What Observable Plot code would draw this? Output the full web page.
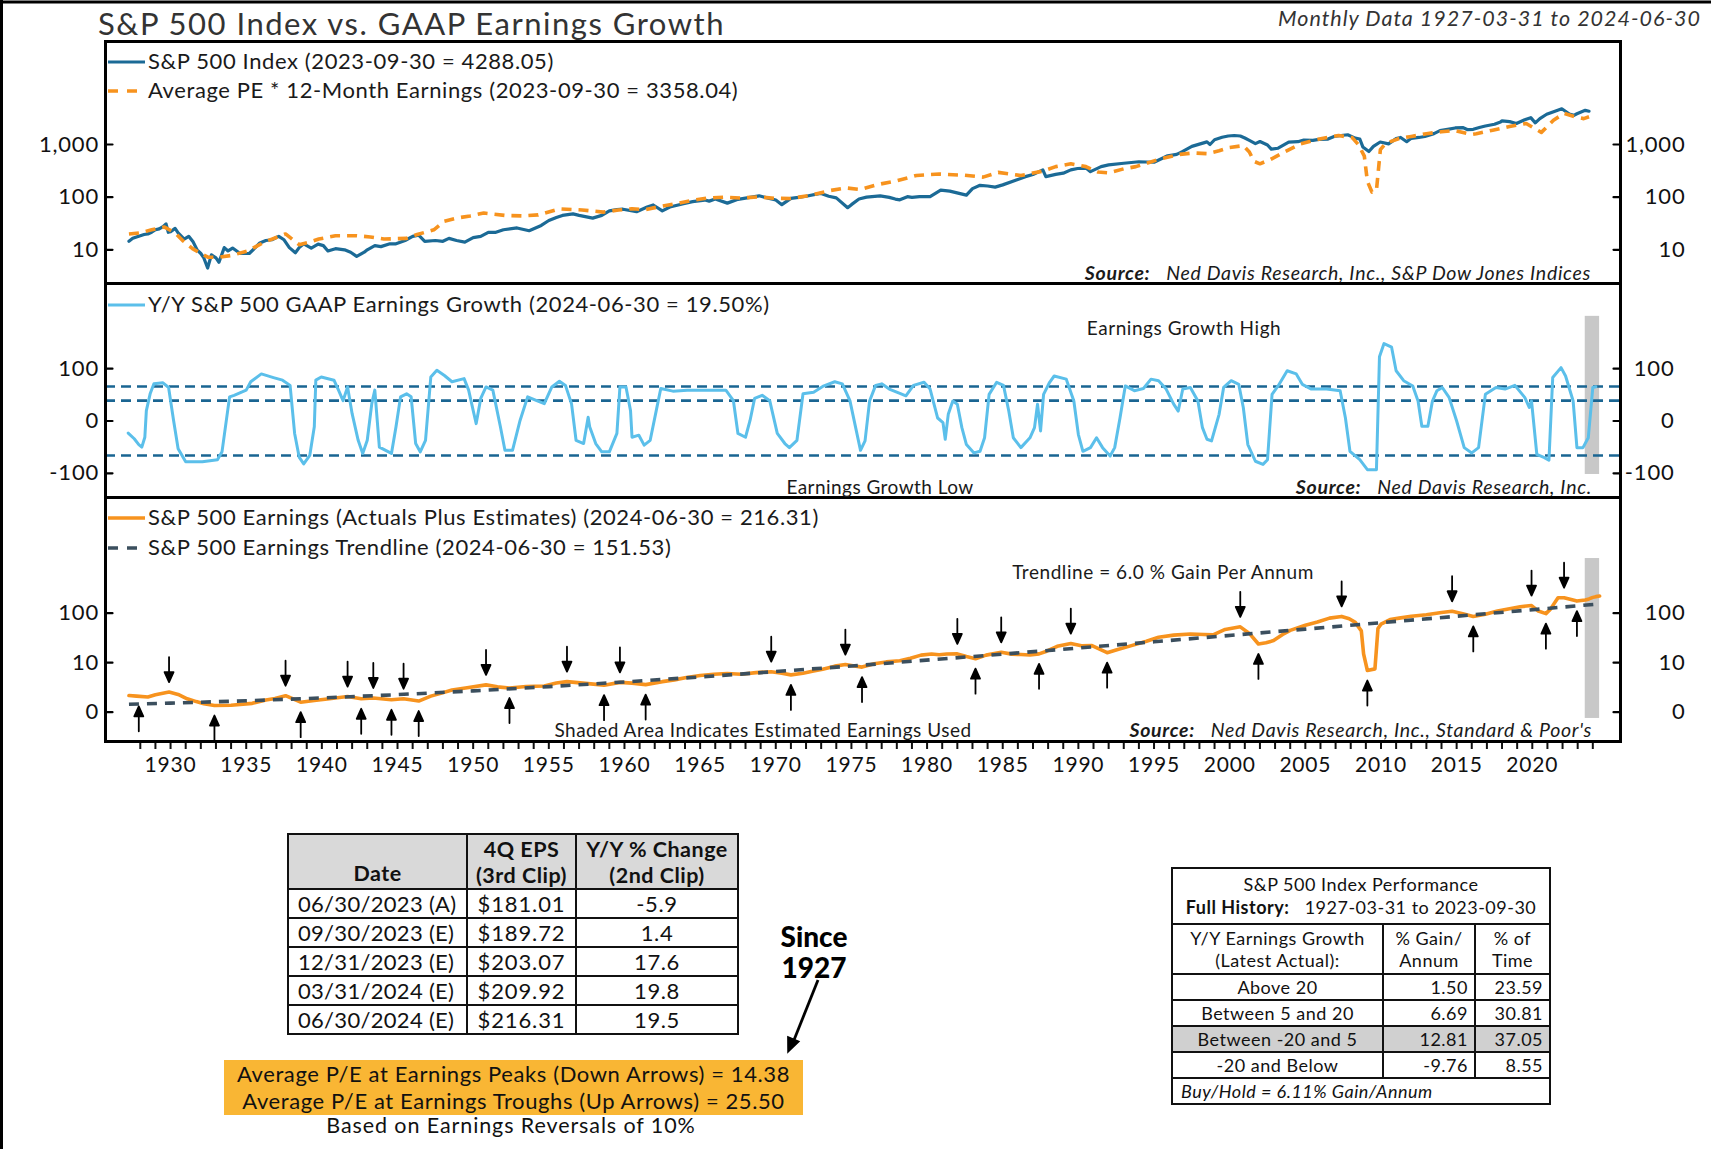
<!DOCTYPE html>
<html>
<head>
<meta charset="utf-8">
<script src="https://cdn.jsdelivr.net/npm/d3@7"></script>
<script src="https://cdn.jsdelivr.net/npm/@observablehq/plot@0.6"></script>
<style>
html,body{margin:0;padding:0;background:#fff;}
#root{position:relative;width:1711px;height:1149px;overflow:hidden;background:#fff;font-family:Lato,"Open Sans",sans-serif;color:#1a1a1a;}
#root > svg{position:absolute;left:0;top:0;}
.abs{position:absolute;white-space:nowrap;line-height:1;}
table.t{position:absolute;border-collapse:collapse;table-layout:fixed;font-family:Lato,"Open Sans",sans-serif;color:#111;}
table.t td, table.t th{border:2.5px solid #111;padding:0;overflow:hidden;white-space:nowrap;}
</style>
</head>
<body>
<div id="root"></div>
<script>
// ================= DATA =================
// S&P 500 Index [year, level]
const spx = [[1927.25,14.5],[1927.5,16.5],[1927.75,17.5],[1928.0,18.5],[1928.25,19.5],[1928.5,20],[1928.75,21.5],[1929.0,24],[1929.25,25],[1929.5,27.5],[1929.7,31],[1929.85,21.5],[1930.0,22],[1930.3,25.5],[1930.5,21],[1930.9,16],[1931.2,18],[1931.5,14],[1931.75,10],[1932.0,8.5],[1932.2,7],[1932.45,4.5],[1932.7,8],[1933.0,7],[1933.2,5.8],[1933.55,11],[1933.8,9.5],[1934.1,10.8],[1934.6,8.5],[1935.2,8.5],[1935.6,11],[1935.9,13.5],[1936.3,15],[1936.7,15.5],[1937.15,18],[1937.5,15.5],[1937.85,11],[1938.25,8.8],[1938.5,11],[1938.8,13],[1939.3,10.8],[1939.75,12.8],[1940.1,12],[1940.4,9.5],[1940.9,10.5],[1941.5,10],[1941.9,9],[1942.3,7.5],[1942.8,9],[1943.0,10],[1943.5,12],[1943.9,11.5],[1944.5,13],[1944.9,13],[1945.5,15],[1946.0,18],[1946.4,19],[1946.8,14.5],[1947.5,15],[1948.0,14.5],[1948.4,16.5],[1948.9,15],[1949.45,14],[1950.0,17],[1950.5,18],[1951.0,21.5],[1951.5,21.5],[1952.0,24],[1952.9,26],[1953.7,23],[1954.5,29],[1955.0,36],[1955.5,41],[1955.9,45],[1956.6,48],[1957.0,45],[1957.9,40],[1958.5,45],[1959.0,55],[1959.5,58],[1959.9,59],[1960.8,53],[1961.5,65],[1961.9,71],[1962.5,55],[1963.0,65],[1963.9,75],[1964.5,82],[1965.3,88],[1965.6,84],[1966.0,92],[1966.8,77],[1967.5,91],[1967.9,95],[1968.9,106],[1969.5,96],[1970.0,88],[1970.4,72],[1971.0,95],[1971.5,99],[1972.0,104],[1972.95,118],[1973.5,104],[1974.0,97],[1974.75,63],[1975.0,72],[1975.5,92],[1976.0,100],[1976.9,106],[1977.5,99],[1977.9,92],[1978.2,89],[1978.7,102],[1979.0,99],[1979.5,102],[1980.2,102],[1980.9,136],[1981.5,130],[1982.6,109],[1983.0,145],[1983.5,168],[1984.0,163],[1984.5,155],[1985.0,171],[1985.9,211],[1986.5,245],[1987.0,270],[1987.65,330],[1987.85,245],[1988.5,270],[1989.0,285],[1989.5,330],[1989.95,350],[1990.5,356],[1990.8,305],[1991.5,380],[1992.0,410],[1993.0,440],[1994.0,470],[1995.0,460],[1995.9,610],[1996.5,650],[1996.9,740],[1997.5,920],[1998.5,1120],[1998.7,1000],[1999.0,1230],[1999.5,1370],[1999.9,1450],[2000.3,1480],[2000.7,1450],[2001.0,1330],[2001.3,1200],[2001.7,1040],[2002.0,1140],[2002.5,980],[2002.75,815],[2003.2,850],[2003.9,1110],[2004.5,1130],[2004.9,1210],[2005.5,1200],[2005.9,1250],[2006.5,1270],[2006.9,1420],[2007.5,1500],[2007.8,1530],[2008.3,1320],[2008.6,1270],[2008.8,900],[2009.2,735],[2009.5,920],[2009.95,1115],[2010.5,1030],[2011.0,1290],[2011.3,1360],[2011.7,1130],[2012.0,1310],[2012.5,1360],[2012.9,1420],[2013.5,1610],[2013.9,1830],[2014.5,1960],[2014.9,2060],[2015.4,2100],[2015.7,1920],[2016.1,1940],[2016.5,2100],[2016.9,2240],[2017.5,2420],[2017.9,2670],[2018.0,2820],[2018.5,2720],[2018.95,2510],[2019.5,2940],[2019.9,3230],[2020.2,2580],[2020.5,3100],[2020.95,3750],[2021.5,4300],[2021.95,4770],[2022.45,3790],[2022.75,3580],[2022.95,3840],[2023.5,4450],[2023.75,4288.05]];

// Average PE * 12-Month Earnings [year, value]
const avgPeEarnings = [[1927.25,20],[1928.0,21],[1928.75,24],[1929.6,27],[1930.3,21],[1930.8,15],[1931.45,10.5],[1932.0,8.5],[1932.5,7.2],[1933.2,7.2],[1934.0,7.8],[1935.1,9.5],[1936.2,14],[1937.6,20],[1938.5,12.5],[1939.2,14],[1939.8,16],[1940.9,18.5],[1942.3,18.5],[1943.2,17.5],[1944.1,16],[1945.6,16.5],[1946.3,19.5],[1947.4,24],[1948.1,35],[1948.9,40],[1949.8,44],[1950.7,50],[1952.1,45],[1953.2,44],[1954.3,46],[1955.7,60],[1957.2,57],[1958.6,52],[1959.6,57],[1960.5,60],[1961.4,58],[1962.3,66],[1963.3,74],[1964.4,86],[1965.5,96],[1966.6,100],[1967.7,96],[1968.8,101],[1970.0,95],[1971.0,94],[1972.4,110],[1973.5,132],[1974.6,150],[1975.6,140],[1976.8,175],[1978.0,205],[1979.3,258],[1980.8,275],[1982.5,260],[1983.7,240],[1984.7,295],[1986.2,258],[1987.6,310],[1988.5,380],[1989.5,430],[1990.5,380],[1991.3,300],[1992.0,290],[1993.0,345],[1993.8,380],[1995.3,520],[1996.7,650],[1997.6,690],[1998.5,670],[1999.3,760],[2000.0,880],[2000.9,950],[2001.3,720],[2001.6,480],[2002.0,430],[2002.7,520],[2003.6,720],[2004.7,1030],[2005.5,1180],[2006.1,1300],[2007.2,1480],[2008.1,1350],[2008.5,1000],[2008.9,600],[2009.1,200],[2009.4,125],[2009.7,135],[2009.96,800],[2010.3,1050],[2011.2,1300],[2012.0,1420],[2013.0,1600],[2014.0,1750],[2014.9,1840],[2016.0,1550],[2016.3,1600],[2017.3,1850],[2018.5,2200],[2019.6,2500],[2020.3,1900],[2020.6,1700],[2021.4,2900],[2022.1,3900],[2022.9,3300],[2023.4,3100],[2023.75,3358.04]];

// Y/Y S&P 500 GAAP earnings growth, % [year, pct]
const yoyGrowth = [[1927.2,-1.9],[1927.6,-3.8],[1927.9,-7],[1928.1,-9],[1928.3,-3.2],[1928.4,1.5],[1928.65,10],[1928.9,25.5],[1929.5,28],[1929.87,18.2],[1930.2,0.05],[1930.5,-10.5],[1931.0,-35.6],[1932.1,-35.6],[1933.1,-29.4],[1933.4,-14.2],[1933.9,7.4],[1934.2,8.6],[1935.0,14.2],[1935.3,30.9],[1936.0,62.7],[1936.8,45],[1937.4,35.6],[1937.9,22.1],[1938.2,-2],[1938.5,-23.1],[1938.8,-43],[1939.2,-20],[1939.5,-0.66],[1939.6,35.6],[1939.96,47.3],[1940.8,35.6],[1941.1,14.2],[1941.4,5],[1941.7,19.1],[1942.0,0.9],[1942.4,-4.5],[1942.7,-16.5],[1943.0,-4.5],[1943.3,3.6],[1943.5,14.2],[1943.8,-9],[1944.6,-16.5],[1944.9,-0.66],[1945.2,7.4],[1945.6,10],[1945.9,7.4],[1946.2,-6.3],[1946.5,-14.2],[1946.85,-4.5],[1947.2,47.3],[1947.6,86.9],[1948.1,54.4],[1948.6,30.9],[1949.4,41],[1949.7,14.2],[1950.05,0.9],[1950.2,-0.26],[1950.5,6.3],[1950.85,19.1],[1951.3,14.2],[1951.8,-0.66],[1952.1,-12.3],[1952.6,-12.3],[1953.1,0.05],[1953.6,7.4],[1954.2,5],[1954.7,3.6],[1955.2,19.1],[1955.7,32.3],[1956.1,22.1],[1956.5,3.6],[1956.8,-4.5],[1957.3,-6.3],[1957.6,0.4],[1957.7,-0.66],[1958.1,-6.3],[1958.5,-14.2],[1959.0,-14.2],[1959.5,-2],[1959.7,19.1],[1960.1,19.1],[1960.4,1.5],[1960.5,-3.2],[1960.95,-2.5],[1961.3,-7.4],[1961.7,-4.5],[1962.1,1.5],[1962.4,16.5],[1963.2,12.9],[1964.15,14.2],[1965.4,14.2],[1966.7,14.2],[1967.2,5],[1967.5,-2],[1968.0,-3.2],[1968.3,0.05],[1968.6,6.3],[1969.1,8.6],[1969.6,5],[1970.1,-2],[1970.6,-6.3],[1970.9,-9.5],[1971.4,-4.5],[1971.8,10],[1972.5,11.7],[1973.1,20],[1973.9,30.9],[1974.4,25.5],[1974.9,5],[1975.6,-12.3],[1975.9,-4.8],[1976.2,4.8],[1976.6,22.1],[1977.0,25.5],[1977.5,15.7],[1978.2,10.5],[1978.6,8.2],[1979.1,22.1],[1979.8,29.4],[1980.2,15.7],[1980.7,0.3],[1981.05,-0.15],[1981.2,-4],[1981.4,0.8],[1981.7,4.8],[1982.0,3.4],[1982.3,-0.8],[1982.6,-7],[1983.1,-15.7],[1983.5,-13.5],[1983.8,-3.4],[1984.1,9.5],[1984.6,29.4],[1985.05,22.1],[1985.4,1.4],[1985.7,-3.4],[1986.2,-9.5],[1986.8,-3.4],[1987.1,-0.8],[1987.3,3.4],[1987.5,-1.4],[1987.7,9.5],[1988.1,29.4],[1988.4,51.9],[1989.2,39.1],[1989.7,4.8],[1990.0,-2.3],[1990.3,-13.5],[1990.8,-9.5],[1991.2,-3.4],[1991.6,-9.5],[1992.1,-21],[1992.4,-9.5],[1992.75,0.3],[1993.1,21],[1993.7,13.5],[1994.3,16.5],[1994.8,39.1],[1995.3,33.9],[1995.8,15.7],[1996.3,3.4],[1996.6,1.4],[1996.9,15.7],[1997.4,18.2],[1997.9,4.8],[1998.2,-0.8],[1998.5,-4],[1998.8,-4.8],[1999.3,0.8],[1999.6,18.2],[2000.1,33.9],[2000.6,24.3],[2000.9,2.3],[2001.2,-7],[2001.7,-33.9],[2002.2,-45.1],[2002.5,-29.4],[2002.8,9.5],[2003.2,21],[2003.8,82.9],[2004.4,62.7],[2004.8,24.3],[2005.4,15.7],[2006.4,15.7],[2007.3,13.5],[2007.65,0.3],[2007.95,-13.5],[2008.6,-29.4],[2009.1,-72.1],[2009.7,-72.1],[2009.9,290.9],[2010.2,924],[2010.7,669],[2011.0,82.9],[2011.5,33.9],[2012.1,21],[2012.45,4.8],[2012.7,-0.6],[2013.1,-0.6],[2013.4,4.8],[2013.7,13.5],[2014.05,18.2],[2014.5,7],[2015.0,0],[2015.5,-9.5],[2016.0,-15.7],[2016.45,-9.5],[2016.9,9.5],[2017.6,18.2],[2018.2,15.7],[2018.85,22.1],[2019.5,7],[2019.8,2.3],[2019.95,4.8],[2020.3,-18.2],[2020.8,-24.3],[2021.1,-30.9],[2021.35,45.1],[2021.9,109.7],[2022.2,51.9],[2022.7,4.8],[2022.95,-9.5],[2023.35,-9.5],[2023.7,-3.4],[2024.0,18.2],[2024.2,19.5]];

// S&P 500 earnings, actuals plus estimates [year, $]
const earnings = [[1927.25,1.37],[1927.75,1.3],[1928.5,1.2],[1929.0,1.45],[1929.9,1.8],[1930.5,1.5],[1931.1,1.02],[1931.7,0.75],[1932.2,0.57],[1932.9,0.43],[1934.0,0.45],[1935.4,0.6],[1936.3,0.9],[1936.9,1.05],[1937.6,1.35],[1938.1,1.0],[1938.6,0.7],[1939.5,0.85],[1940.5,1.02],[1941.7,1.25],[1942.6,1.02],[1943.4,1.1],[1944.6,0.92],[1945.4,1.02],[1946.4,0.8],[1947.2,1.3],[1947.8,1.6],[1948.6,2.1],[1949.6,2.45],[1950.85,2.95],[1951.6,2.6],[1952.4,2.4],[1953.5,2.65],[1954.7,2.75],[1955.5,3.3],[1956.2,3.6],[1957.6,3.2],[1958.65,2.9],[1959.7,3.45],[1960.5,3.3],[1961.4,3.0],[1962.5,3.6],[1963.3,4.0],[1964.1,4.6],[1965.0,5.1],[1965.9,5.5],[1966.8,5.7],[1967.7,5.5],[1968.7,6.0],[1969.7,6.3],[1970.4,5.8],[1971.0,5.3],[1971.8,5.8],[1972.5,6.5],[1973.1,7.2],[1973.9,8.4],[1974.6,9.1],[1975.2,8.5],[1975.7,8.0],[1976.5,9.5],[1977.3,10.4],[1978.2,11.0],[1978.9,12.5],[1979.6,14.5],[1980.3,15.3],[1980.8,14.8],[1981.3,15.3],[1982.0,15.4],[1982.6,13.5],[1983.2,12.2],[1983.9,14.5],[1984.9,16.6],[1985.6,15.2],[1986.2,14.9],[1986.8,14.6],[1987.4,15.4],[1987.9,17.5],[1988.6,22],[1989.5,25],[1990.2,22.5],[1990.9,22.8],[1991.9,16.3],[1992.6,19],[1993.45,22.5],[1994.5,28],[1995.3,33.5],[1996.3,37],[1997.4,39],[1998.3,38],[1998.9,37.5],[1999.7,48],[2000.7,54],[2001.3,40],[2001.9,24.6],[2002.4,26],[2002.9,28.8],[2003.5,38],[2004.0,46],[2005.0,58],[2005.8,67],[2006.6,80],[2007.4,86.5],[2007.9,78],[2008.3,66],[2008.7,45],[2008.85,15.4],[2009.1,6.7],[2009.6,7.3],[2009.8,50],[2010.0,61],[2010.6,75],[2011.2,80],[2012.0,87],[2013.0,93],[2014.0,103],[2014.7,109],[2015.4,98],[2016.1,86.5],[2016.9,95],[2017.7,110],[2018.5,122],[2019.2,134],[2019.95,141],[2020.4,110],[2020.9,98],[2021.2,120],[2021.7,200],[2022.1,200],[2022.5,186],[2022.95,172],[2023.5,181.01],[2023.75,189.72],[2024.0,203.07],[2024.2,209.92],[2024.45,216.31]];

// Earnings trendline, 6.0% gain per annum [year, $]
const trendline = [[1927.25,0.524],[1930,0.616],[1935,0.823],[1940,1.102],[1945,1.475],[1950,1.973],[1955,2.64],[1960,3.534],[1965,4.73],[1970,6.33],[1975,8.47],[1985,15.17],[1995,27.17],[2005,48.66],[2015,87.1],[2024.45,151.53]];

// Earnings reversals of 10%
const peakYears = [1929.9,1937.6,1941.7,1943.4,1945.4,1950.85,1956.2,1959.7,1969.7,1974.6,1982.0,1984.9,1989.5,2000.7,2007.4,2014.7,2019.95,2022.1];
const troughYears = [1927.9,1932.9,1938.6,1942.6,1944.6,1946.4,1952.4,1958.65,1961.4,1971.0,1975.7,1983.2,1987.4,1991.9,2001.9,2009.1,2016.1,2020.9,2022.95];

const growthThresholds = [20, 5, -20];
const estimateYears = [2023.5, 2024.45];
const midBandY = [-111, 10190];
const botBandY = [-0.4, 1144];

const topTicks = [10, 100, 1000];
const midTicks = [-100, 0, 100];
const botTicks = [0, 10, 100];
const yearTicks = d3.range(1928, 2025);

const titleText = "S&P 500 Index vs. GAAP Earnings Growth";
const subtitleText = "Monthly Data 1927-03-31 to 2024-06-30";
const legendTop = ["S&P 500 Index (2023-09-30 = 4288.05)", "Average PE * 12-Month Earnings (2023-09-30 = 3358.04)"];
const legendMid = ["Y/Y S&P 500 GAAP Earnings Growth (2024-06-30 = 19.50%)"];
const legendBot = ["S&P 500 Earnings (Actuals Plus Estimates) (2024-06-30 = 216.31)", "S&P 500 Earnings Trendline (2024-06-30 = 151.53)"];

const epsTableHead = [["Date"], ["4Q EPS", "(3rd Clip)"], ["Y/Y % Change", "(2nd Clip)"]];
const epsTableDates = ["06/30/2023 (A)", "09/30/2023 (E)", "12/31/2023 (E)", "03/31/2024 (E)", "06/30/2024 (E)"];
const epsTableEps = ["$181.01", "$189.72", "$203.07", "$209.92", "$216.31"];
const epsTableChg = ["-5.9", "1.4", "17.6", "19.8", "19.5"];

const perfTitle = ["S&P 500 Index Performance", "Full History:", "1927-03-31 to 2023-09-30"];
const perfHead = [["Y/Y Earnings Growth", "(Latest Actual):"], ["% Gain/", "Annum"], ["% of", "Time"]];
const perfRows = ["Above 20", "Between 5 and 20", "Between -20 and 5", "-20 and Below"];
const perfGain = ["1.50", "6.69", "12.81", "-9.76"];
const perfTime = ["23.59", "30.81", "37.05", "8.55"];
const perfFoot = "Buy/Hold = 6.11% Gain/Annum";

const peText = ["Average P/E at Earnings Peaks (Down Arrows) = 14.38", "Average P/E at Earnings Troughs (Up Arrows) = 25.50"];
const reversalText = "Based on Earnings Reversals of 10%";
const sinceText = ["Since", "1927"];

// ================= STYLE =================
const W = 1711;
const xDomain = [1925.7, 2025.83];
const ML = 105, MR = W - 1620;
const FONT = "Lato, 'Open Sans', sans-serif";
const C = {
  spx: "#1b6a96", pe: "#f7931e", yoy: "#5bbfea", band: "#1a6592",
  eps: "#f7931e", trend: "#3b4f5e", shade: "#c8c8c8"
};
const plotStyle = {background: "transparent", overflow: "visible", fontFamily: FONT, fontSize: "22px", color: "#111", letterSpacing: "0.8px"};

const root = document.getElementById("root");
const tickShape = {draw(ctx, l) { ctx.moveTo(0, 0); ctx.lineTo(0, -l); }};
const arrowShape = {draw(ctx, l) {
  ctx.moveTo(0, 0); ctx.lineTo(0, -l + 6);
  ctx.moveTo(-4.5, -l + 10); ctx.lineTo(0, -l); ctx.lineTo(4.5, -l + 10); ctx.closePath();
}};
const px = d => d[0], py = d => d[1];

function yAxes(ticks, fmt, rightEnd) {
  return [
    Plot.axisY({ticks, anchor: "left", tickSize: 0, tickPadding: 6.5, tickFormat: fmt, fontSize: 22, label: null}),
    Plot.axisY({ticks, anchor: "right", tickSize: 0, tickPadding: rightEnd - 1620, textAnchor: "end", tickFormat: fmt, fontSize: 22, label: null}),
    Plot.vector(ticks, {y: d => d, frameAnchor: "left", rotate: 90, anchor: "start", length: 7, shape: tickShape, stroke: "#000", strokeWidth: 2.2}),
    Plot.vector(ticks, {y: d => d, frameAnchor: "right", rotate: 270, anchor: "start", length: 7, shape: tickShape, stroke: "#000", strokeWidth: 2.2})
  ];
}
function place(el) { el.style.position = "absolute"; el.style.left = "0px"; el.style.top = "0px"; root.appendChild(el); }

// ---- Panel 1: S&P 500 index (log) ----
place(Plot.plot({
  width: W, height: 290, marginLeft: ML, marginRight: MR, marginTop: 41, marginBottom: 7,
  style: plotStyle,
  x: {domain: xDomain, axis: null},
  y: {type: "log", domain: [2.29, 90400]},
  marks: [
    ...yAxes(topTicks, d3.format(","), 1685),
    Plot.line(spx, {x: px, y: py, stroke: C.spx, strokeWidth: 3.2}),
    Plot.line(avgPeEarnings, {x: px, y: py, stroke: C.pe, strokeWidth: 3.6, strokeDasharray: "10,7", strokeLinecap: "butt"}),
    Plot.frame({stroke: "#000", strokeWidth: 3})
  ]
}));

// ---- Panel 2: Y/Y earnings growth (symlog) ----
place(Plot.plot({
  width: W, height: 505, marginLeft: ML, marginRight: MR, marginTop: 283, marginBottom: 8,
  style: plotStyle,
  x: {domain: xDomain, axis: null},
  y: {type: "symlog", constant: 1, domain: [-853, 185000]},
  marks: [
    Plot.rect([estimateYears], {x1: d => d[0], x2: d => d[1], y1: () => midBandY[0], y2: () => midBandY[1], fill: C.shade}),
    Plot.ruleY(growthThresholds, {stroke: C.band, strokeWidth: 2.6, strokeDasharray: "10,6"}),
    Plot.line(yoyGrowth, {x: px, y: py, stroke: C.yoy, strokeWidth: 3}),
    ...yAxes(midTicks, d => String(d), 1674),
    Plot.frame({stroke: "#000", strokeWidth: 3})
  ]
}));

// ---- Panel 3: Earnings & trendline (symlog) ----
const interp = (s, x) => {
  for (let i = 1; i < s.length; i++) if (s[i][0] >= x) {
    const [x0, y0] = s[i - 1], [x1, y1] = s[i];
    return y0 + (y1 - y0) * (x - x0) / (x1 - x0);
  }
  return s[s.length - 1][1];
};
const peaks = peakYears.map(x => [x, interp(earnings, x)]);
const troughs = troughYears.map(x => [x, interp(earnings, x)]);

place(Plot.plot({
  width: W, height: 790, marginLeft: ML, marginRight: MR, marginTop: 497, marginBottom: 49,
  style: plotStyle,
  x: {domain: xDomain},
  y: {type: "symlog", constant: 1.25, domain: [-3.34, 17200]},
  marks: [
    Plot.rect([estimateYears], {x1: d => d[0], x2: d => d[1], y1: () => botBandY[0], y2: () => botBandY[1], fill: C.shade}),
    Plot.line(earnings, {x: px, y: py, stroke: C.eps, strokeWidth: 3.6}),
    Plot.line(trendline, {x: px, y: py, stroke: C.trend, strokeWidth: 3.6, strokeDasharray: "10,8", strokeLinecap: "butt"}),
    Plot.vector(peaks, {x: px, y: py, rotate: 180, anchor: "end", length: 25, dy: -10, shape: arrowShape, stroke: "#000", fill: "#000", strokeWidth: 1.8}),
    Plot.vector(troughs, {x: px, y: py, rotate: 0, anchor: "end", length: 25, dy: 10, shape: arrowShape, stroke: "#000", fill: "#000", strokeWidth: 1.8}),
    ...yAxes(botTicks, d => String(d), 1685),
    Plot.axisX({ticks: yearTicks, tickSize: 8, tickPadding: 8, strokeWidth: 2, fontSize: 21, label: null, tickFormat: d => d % 5 === 0 ? String(d) : ""}),
    Plot.frame({stroke: "#000", strokeWidth: 3})
  ]
}));

// ================= OVERLAY TEXT =================
function txt(html, x, yc, size, o = {}) {
  const d = document.createElement("div");
  d.className = "abs";
  d.innerHTML = html;
  d.style.fontSize = size + "px";
  d.style.top = (yc - size * 0.53) + "px";
  d.style.fontWeight = o.weight || 400;
  if (o.italic) d.style.fontStyle = "italic";
  if (o.ls != null) d.style.letterSpacing = o.ls + "px";
  if (o.lh) d.style.lineHeight = o.lh + "px";
  if (o.align) d.style.textAlign = o.align;
  d.style.color = o.color || "#1a1a1a";
  const a = o.anchor || "start";
  if (a === "start") d.style.left = x + "px";
  else if (a === "end") d.style.right = (W - x) + "px";
  else { d.style.left = x + "px"; d.style.transform = "translateX(-50%)"; }
  root.appendChild(d);
  return d;
}
const esc = s => s.replace(/&/g, "&amp;");

const ov = document.createElementNS("http://www.w3.org/2000/svg", "svg");
ov.setAttribute("width", W); ov.setAttribute("height", 1149);
ov.style.position = "absolute"; ov.style.left = "0"; ov.style.top = "0";
ov.innerHTML = `
  <line x1="1.5" y1="0" x2="1.5" y2="1149" stroke="#000" stroke-width="3"/>
  <line x1="0" y1="2" x2="${W}" y2="2" stroke="#000" stroke-width="3"/>
  <line x1="108" y1="62" x2="145" y2="62" stroke="${C.spx}" stroke-width="3.2"/>
  <line x1="108" y1="91" x2="145" y2="91" stroke="${C.pe}" stroke-width="3.6" stroke-dasharray="10,9"/>
  <line x1="108" y1="305" x2="145" y2="305" stroke="${C.yoy}" stroke-width="3"/>
  <line x1="108" y1="518" x2="145" y2="518" stroke="${C.eps}" stroke-width="3.6"/>
  <line x1="108" y1="548" x2="145" y2="548" stroke="${C.trend}" stroke-width="3.6" stroke-dasharray="10,9"/>
  <line x1="818" y1="980" x2="794" y2="1040" stroke="#000" stroke-width="2.8"/>
  <polygon points="788,1052 798.9,1041.4 787.9,1036.8" fill="#000" stroke="#000" stroke-width="1.5"/>
`;
root.appendChild(ov);

txt(esc(titleText), 98, 24, 31, {ls: 1.5, color: "#333"});
txt(esc(subtitleText), 1701, 19, 21.5, {anchor: "end", italic: true, color: "#333", ls: 1.0});

const LS = 0.6;
txt(esc(legendTop[0]), 148, 62, 22, {ls: LS});
txt(esc(legendTop[1]), 148, 91, 22, {ls: LS});
txt(esc(legendMid[0]), 148, 305, 22, {ls: LS});
txt(esc(legendBot[0]), 148, 518, 22, {ls: LS});
txt(esc(legendBot[1]), 148, 548, 22, {ls: LS});

const src = s => `<b>Source:</b>&nbsp;&nbsp;&nbsp;${esc(s)}`;
txt(src("Ned Davis Research, Inc., S&P Dow Jones Indices"), 1591, 273, 19.5, {anchor: "end", italic: true, ls: 0.7});
txt(src("Ned Davis Research, Inc."), 1592, 487, 19.5, {anchor: "end", italic: true, ls: 0.7});
txt(src("Ned Davis Research, Inc., Standard & Poor's"), 1592, 730, 19.5, {anchor: "end", italic: true, ls: 0.7});

txt("Earnings Growth High", 1184, 328, 19, {anchor: "middle", ls: 0.55});
txt("Earnings Growth Low", 880, 487, 19, {anchor: "middle", ls: 0.45});
txt("Trendline = 6.0 % Gain Per Annum", 1163, 572, 19, {anchor: "middle", ls: 0.55});
txt("Shaded Area Indicates Estimated Earnings Used", 763, 730, 19, {anchor: "middle", ls: 0.5});

// ================= TABLES =================
const t1 = document.createElement("table");
t1.className = "t";
t1.style.left = "287px"; t1.style.top = "833px"; t1.style.width = "450px";
t1.style.fontSize = "22px";
let h = `<colgroup><col style="width:179px"><col style="width:109px"><col style="width:162px"></colgroup>`;
h += `<tr style="height:55px;background:#d9d9d9">` +
  epsTableHead.map((c, i) => `<th style="font-weight:700;font-size:21.5px;letter-spacing:0.5px;line-height:26px;text-align:center;vertical-align:${i === 0 ? "bottom" : "middle"};padding-bottom:${i === 0 ? 2 : 0}px">${c.join("<br>")}</th>`).join("") + `</tr>`;
epsTableDates.forEach((d, i) => {
  h += `<tr style="height:29px"><td style="padding-left:9px;letter-spacing:0.3px">${d}</td><td style="text-align:center;letter-spacing:0.9px">${epsTableEps[i]}</td><td style="text-align:center;letter-spacing:0.6px">${epsTableChg[i]}</td></tr>`;
});
t1.innerHTML = h;
root.appendChild(t1);

const t2 = document.createElement("table");
t2.className = "t";
t2.style.left = "1171px"; t2.style.top = "867px"; t2.style.width = "378px";
t2.style.fontSize = "18px";
let g = `<colgroup><col style="width:211px"><col style="width:92px"><col style="width:75px"></colgroup>`;
g += `<tr style="height:56px"><td colspan="3" style="text-align:center;line-height:23px;letter-spacing:0.5px">${esc(perfTitle[0])}<br><b>${perfTitle[1]}</b>&nbsp;&nbsp;&nbsp;${perfTitle[2]}</td></tr>`;
g += `<tr style="height:50px">` + perfHead.map(c => `<td style="text-align:center;line-height:22px;letter-spacing:0.5px">${c.join("<br>")}</td>`).join("") + `</tr>`;
perfRows.forEach((r, i) => {
  const bg = i === 2 ? "background:#d0d0d0;" : "";
  g += `<tr style="height:26px;${bg}"><td style="text-align:center;letter-spacing:0.5px">${r}</td><td style="text-align:right;padding-right:6px;letter-spacing:0.5px">${perfGain[i]}</td><td style="text-align:right;padding-right:6px;letter-spacing:0.5px">${perfTime[i]}</td></tr>`;
});
g += `<tr style="height:26px"><td colspan="3" style="font-style:italic;padding-left:8px;letter-spacing:0.5px">${perfFoot}</td></tr>`;
t2.innerHTML = g;
root.appendChild(t2);

const box = document.createElement("div");
box.className = "abs";
Object.assign(box.style, {left: "224px", top: "1060px", width: "579px", height: "55px", background: "#f9b634",
  textAlign: "center", fontSize: "22px", lineHeight: "27px", letterSpacing: "0.6px", color: "#111"});
box.innerHTML = peText.map(esc).join("<br>");
root.appendChild(box);
txt(reversalText, 511, 1126, 21.5, {anchor: "middle", ls: 0.9, color: "#111"});
// "Since 1927" as one two-line text block
const since = txt(sinceText.join("<br>"), 814, 936, 28, {anchor: "middle", weight: 900, color: "#000", lh: 31, align: "center"});
since.style.top = (936 - 15.5) + "px";
</script>
</body>
</html>
